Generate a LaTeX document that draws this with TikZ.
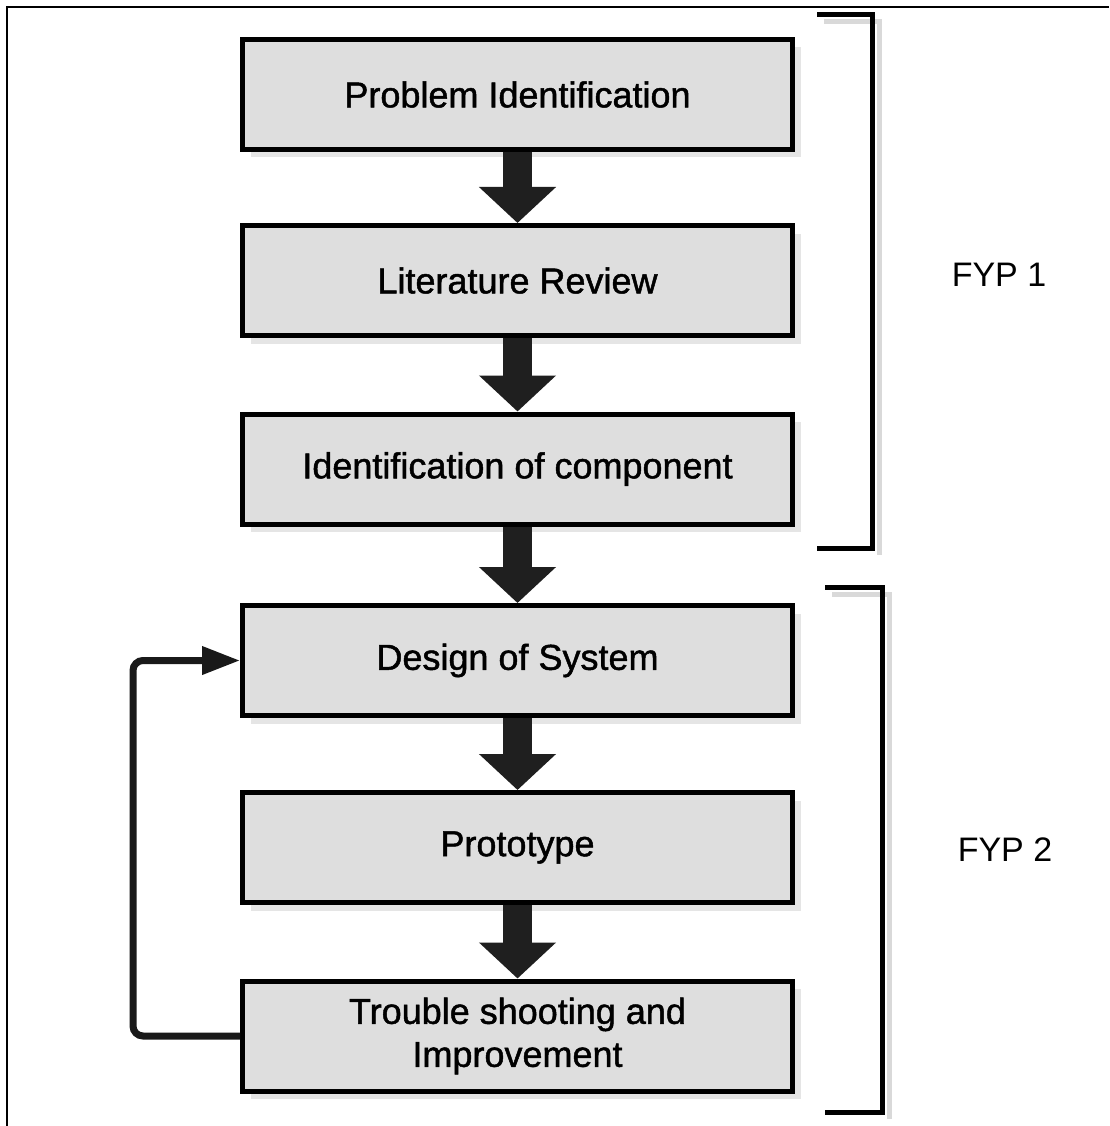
\documentclass[tikz,border=0pt]{standalone}
\usepackage{fontspec}
\setmainfont{Liberation Sans}
\newfontfamily\boxfont{Liberation Sans}[FakeBold=1.3]
\usetikzlibrary{arrows.meta,shadows}
\begin{document}
\begin{tikzpicture}[x=1pt,y=-1pt,
  stepbox/.style={draw=black, line width=5pt, fill=gray!26, minimum width=550pt,
    minimum height=110pt, inner sep=0pt, align=center,
    font=\boxfont\fontsize{36}{43}\selectfont,
    drop shadow={shadow xshift=8pt, shadow yshift=-8pt, fill=gray!20, opacity=1}},
  blockarrow/.style={draw=black!88, line width=29pt, -{Triangle[length=36pt,width=75pt]}},
  loopline/.style={draw=black!90, line width=7pt, rounded corners=10pt,
    -{Triangle[length=38pt,width=27pt]}},
  bracket/.style={draw=black, line width=5pt},
  bracketshadow/.style={draw=gray!30, line width=5pt},
  fyp/.style={font=\fontsize{34}{40}\selectfont}]
\useasboundingbox (0,0) rectangle (1109,1126);
\fill[white] (0,0) rectangle (1109,1126);
% outer frame
\draw[line width=2pt] (7,1126) -- (7,7) -- (1109,7);
% boxes
\node[stepbox] (b1) at (517.5,94.5) {Problem Identification};
\node[stepbox] (b2) at (517.5,280.5) {Literature Review};
\node[stepbox] (b3) at (517.5,469) {Identification of component};
\node[stepbox] (b4) at (517.5,660.5) {Design of System};
\node[stepbox] (b5) at (517.5,847.5) {Prototype};
\node[stepbox] (b6) at (517.5,1036) {Trouble shooting and\\Improvement};
% block arrows
\draw[blockarrow] (b1.south) -- (b2.north);
\draw[blockarrow] (b2.south) -- (b3.north);
\draw[blockarrow] (b3.south) -- (b4.north);
\draw[blockarrow] (b4.south) -- (b5.north);
\draw[blockarrow] (b5.south) -- (b6.north);
% feedback loop
\draw[loopline] (b6.west) -- ++(-107,0) |- (b4.west);
% brackets
\draw[bracketshadow] (824,22) -- (879,22) -- (879,555);
\draw[bracket] (817,15) -- (872,15) -- (872,548) -- (817,548);
\draw[bracketshadow] (832,594) -- (889,594) -- (889,1119);
\draw[bracket] (825,587) -- (882,587) -- (882,1112) -- (825,1112);
% labels
\node[fyp] (fyp1) at (999,275) {FYP 1};
\node[fyp] (fyp2) at (1005,850) {FYP 2};
\end{tikzpicture}
\end{document}
